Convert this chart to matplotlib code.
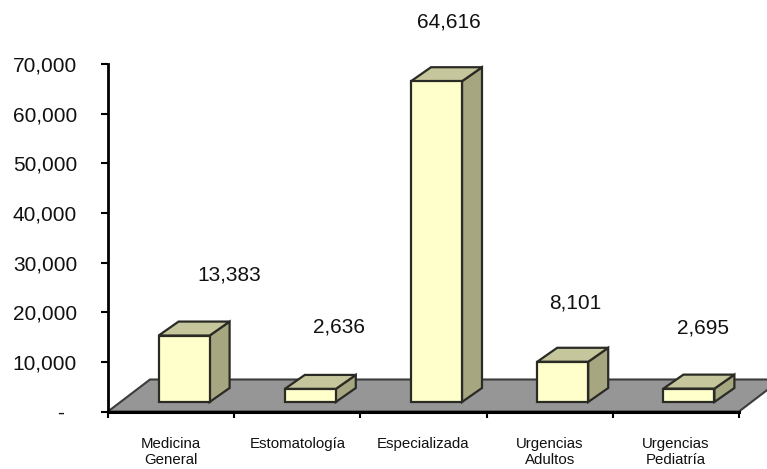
#!/usr/bin/python
import matplotlib
matplotlib.use('Agg')
import matplotlib.pyplot as plt
from matplotlib.patches import Polygon

# values
categories = ['Medicina\nGeneral', 'Estomatología', 'Especializada', 'Urgencias\nAdultos', 'Urgencias\nPediatría']
values = [13383, 2636, 64616, 8101, 2695]
value_labels = ['13,383', '2,636', '64,616', '8,101', '2,695']
y_ticks = [0, 10000, 20000, 30000, 40000, 50000, 60000, 70000]
y_tick_labels = ['-', '10,000', '20,000', '30,000', '40,000', '50,000', '60,000', '70,000']

# label shift from the category centre and bar top, in pixels
label_dx = [58, 42, 25, 26, 27]
label_dy = [61, 62, 59, 59, 61]

W, H = 767, 469
plt.rcParams['font.family'] = ['Liberation Sans', 'DejaVu Sans']

fig = plt.figure(figsize=(W / 100, H / 100), dpi=100)
ax = fig.add_axes([108 / W, 1 - 411.5 / H, 631 / W, 347.5 / H])
ax.set_xlim(0, 5)
ax.set_ylim(0, 70000)

# pixel sizes turned into data units
px_x = 5 / 631.0
px_y = 70000 / 347.5

edge = '#2b2b26'

# floor, runs off the right of the picture
floor_dx = 42 * px_x
floor_dy = 32 * px_y
ax.add_patch(Polygon([(0, 0), (5, 0), (5 + floor_dx, floor_dy), (floor_dx, floor_dy)],
                     closed=True, fc='#969696', ec='#3c3c3c', lw=1.5, clip_on=False, zorder=1))

bar_w = 51 * px_x
base_x = 13 * px_x
base_y = 9.5 * px_y
dep_x = 20 * px_x
dep_y = 14 * px_y

for i, v in enumerate(values):
    x0 = i + 0.5 + base_x - bar_w / 2
    x1 = x0 + bar_w
    y0 = base_y
    y1 = base_y + v
    front = [(x0, y0), (x1, y0), (x1, y1), (x0, y1)]
    side = [(x1, y0), (x1 + dep_x, y0 + dep_y), (x1 + dep_x, y1 + dep_y), (x1, y1)]
    top = [(x0, y1), (x1, y1), (x1 + dep_x, y1 + dep_y), (x0 + dep_x, y1 + dep_y)]
    ax.add_patch(Polygon(side, closed=True, fc='#a6a680', ec=edge, lw=1.6, clip_on=False, zorder=3))
    ax.add_patch(Polygon(top, closed=True, fc='#c6c69c', ec=edge, lw=1.6, clip_on=False, zorder=3))
    ax.add_patch(Polygon(front, closed=True, fc='#ffffcc', ec=edge, lw=1.6, clip_on=False, zorder=4))
    ax.annotate(value_labels[i], xy=(i + 0.5, y1), xytext=(label_dx[i] * 0.72, label_dy[i] * 0.72),
                textcoords='offset points', ha='center', va='center', fontsize=15,
                color='#111111', annotation_clip=False)

for s in ['top', 'right']:
    ax.spines[s].set_visible(False)
ax.spines['left'].set_linewidth(2)
ax.spines['bottom'].set_linewidth(2.2)
ax.spines['left'].set_zorder(6)
ax.spines['bottom'].set_zorder(2)

ax.set_yticks(y_ticks)
ax.set_yticklabels(y_tick_labels, fontsize=15, color='#111111')
ax.set_xticks(range(6))
ax.set_xticklabels([])
ax.tick_params(axis='y', length=5, width=1.5, pad=17.3)
ax.tick_params(axis='x', length=4, width=1.5)
# the dash for zero sits further left, like an accounting format
ax.get_yticklabels()[0].set_x(-0.02)

# category names sit between the ticks
for i, c in enumerate(categories):
    ax.annotate(c, xy=(i + 0.5, 0), xytext=(0, -18.5), textcoords='offset points',
                ha='center', va='top', fontsize=10.8, linespacing=1.15, color='#111111',
                annotation_clip=False)

fig.savefig('out.png', dpi=100)
